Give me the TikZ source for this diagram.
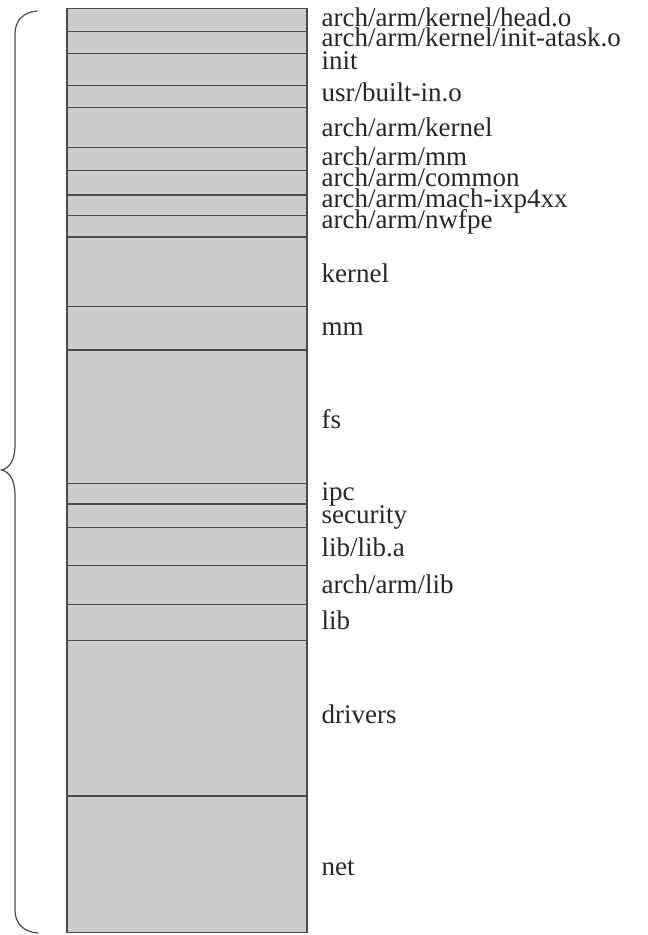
\documentclass[tikz,border=0pt]{standalone}
\usepackage{fontspec}
\setmainfont{Liberation Serif}
\usepackage{tikz}
\usetikzlibrary{positioning}
\definecolor{segfill}{HTML}{CCCCCC}
\definecolor{segline}{HTML}{4A4A4A}
\tikzset{
  seg/.style={rectangle, draw=segline, fill=segfill, line width=1.2pt, minimum width=240pt, inner sep=0pt, outer sep=0pt},
  lbl/.style={anchor=base west, inner sep=0pt, font=\fontsize{27}{30}\selectfont, text=black!85},
  brace/.style={draw=segline, line width=1.2pt, line cap=round}
}
\begin{document}
\begin{tikzpicture}[x=1pt, y=-1pt]
        \useasboundingbox (0,0) rectangle (648,935);
        % image sections, top to bottom
        \node (s1) [seg, minimum height=23.4pt, anchor=north west] at (67,8.3) {};
        \node (s2) [seg, minimum height=21.6pt, below=0pt of s1] {};
        \node (s3) [seg, minimum height=32.4pt, below=0pt of s2] {};
        \node (s4) [seg, minimum height=22pt, below=0pt of s3] {};
        \node (s5) [seg, minimum height=40pt, below=0pt of s4] {};
        \node (s6) [seg, minimum height=22.6pt, below=0pt of s5] {};
        \node (s7) [seg, minimum height=24.7pt, below=0pt of s6] {};
        \node (s8) [seg, minimum height=20.7pt, below=0pt of s7] {};
        \node (s9) [seg, minimum height=21.3pt, below=0pt of s8] {};
        \node (s10) [seg, minimum height=69.7pt, below=0pt of s9] {};
        \node (s11) [seg, minimum height=43.3pt, below=0pt of s10] {};
        \node (s12) [seg, minimum height=133.3pt, below=0pt of s11] {};
        \node (s13) [seg, minimum height=20.7pt, below=0pt of s12] {};
        \node (s14) [seg, minimum height=23.7pt, below=0pt of s13] {};
        \node (s15) [seg, minimum height=38pt, below=0pt of s14] {};
        \node (s16) [seg, minimum height=38.6pt, below=0pt of s15] {};
        \node (s17) [seg, minimum height=36.4pt, below=0pt of s16] {};
        \node (s18) [seg, minimum height=155.3pt, below=0pt of s17] {};
        \node (s19) [seg, minimum height=136.7pt, below=0pt of s18] {};

        % labels
        \node (l1) [lbl] at (321.5,26) {arch/arm/kernel/head.o};
        \node (l2) [lbl] at (321.5,46) {arch/arm/kernel/init-atask.o};
        \node (l3) [lbl] at (321.5,69) {init};
        \node (l4) [lbl] at (321.5,101) {usr/built-in.o};
        \node (l5) [lbl] at (321.5,136) {arch/arm/kernel};
        \node (l6) [lbl] at (321.5,165) {arch/arm/mm};
        \node (l7) [lbl] at (321.5,186) {arch/arm/common};
        \node (l8) [lbl] at (321.5,207) {arch/arm/mach-ixp4xx};
        \node (l9) [lbl] at (321.5,228) {arch/arm/nwfpe};
        \node (l10) [lbl] at (321.5,282) {kernel};
        \node (l11) [lbl] at (321.5,335) {mm};
        \node (l12) [lbl] at (321.5,428) {fs};
        \node (l13) [lbl] at (321.5,500) {ipc};
        \node (l14) [lbl] at (321.5,523) {security};
        \node (l15) [lbl] at (321.5,556) {lib/lib.a};
        \node (l16) [lbl] at (321.5,593) {arch/arm/lib};
        \node (l17) [lbl] at (321.5,629) {lib};
        \node (l18) [lbl] at (321.5,723) {drivers};
        \node (l19) [lbl] at (321.5,875) {net};

        % brace on the left
        \draw [brace] (37,11) .. controls (24,12) and (15,20) .. (15,34) -- (15,444)
            .. controls (15,460) and (10,468) .. (1.5,470) .. controls (10,472) and (15,480) .. (15,496)
            -- (15,910) .. controls (15,924) and (24,932) .. (38,933);
\end{tikzpicture}
\end{document}
